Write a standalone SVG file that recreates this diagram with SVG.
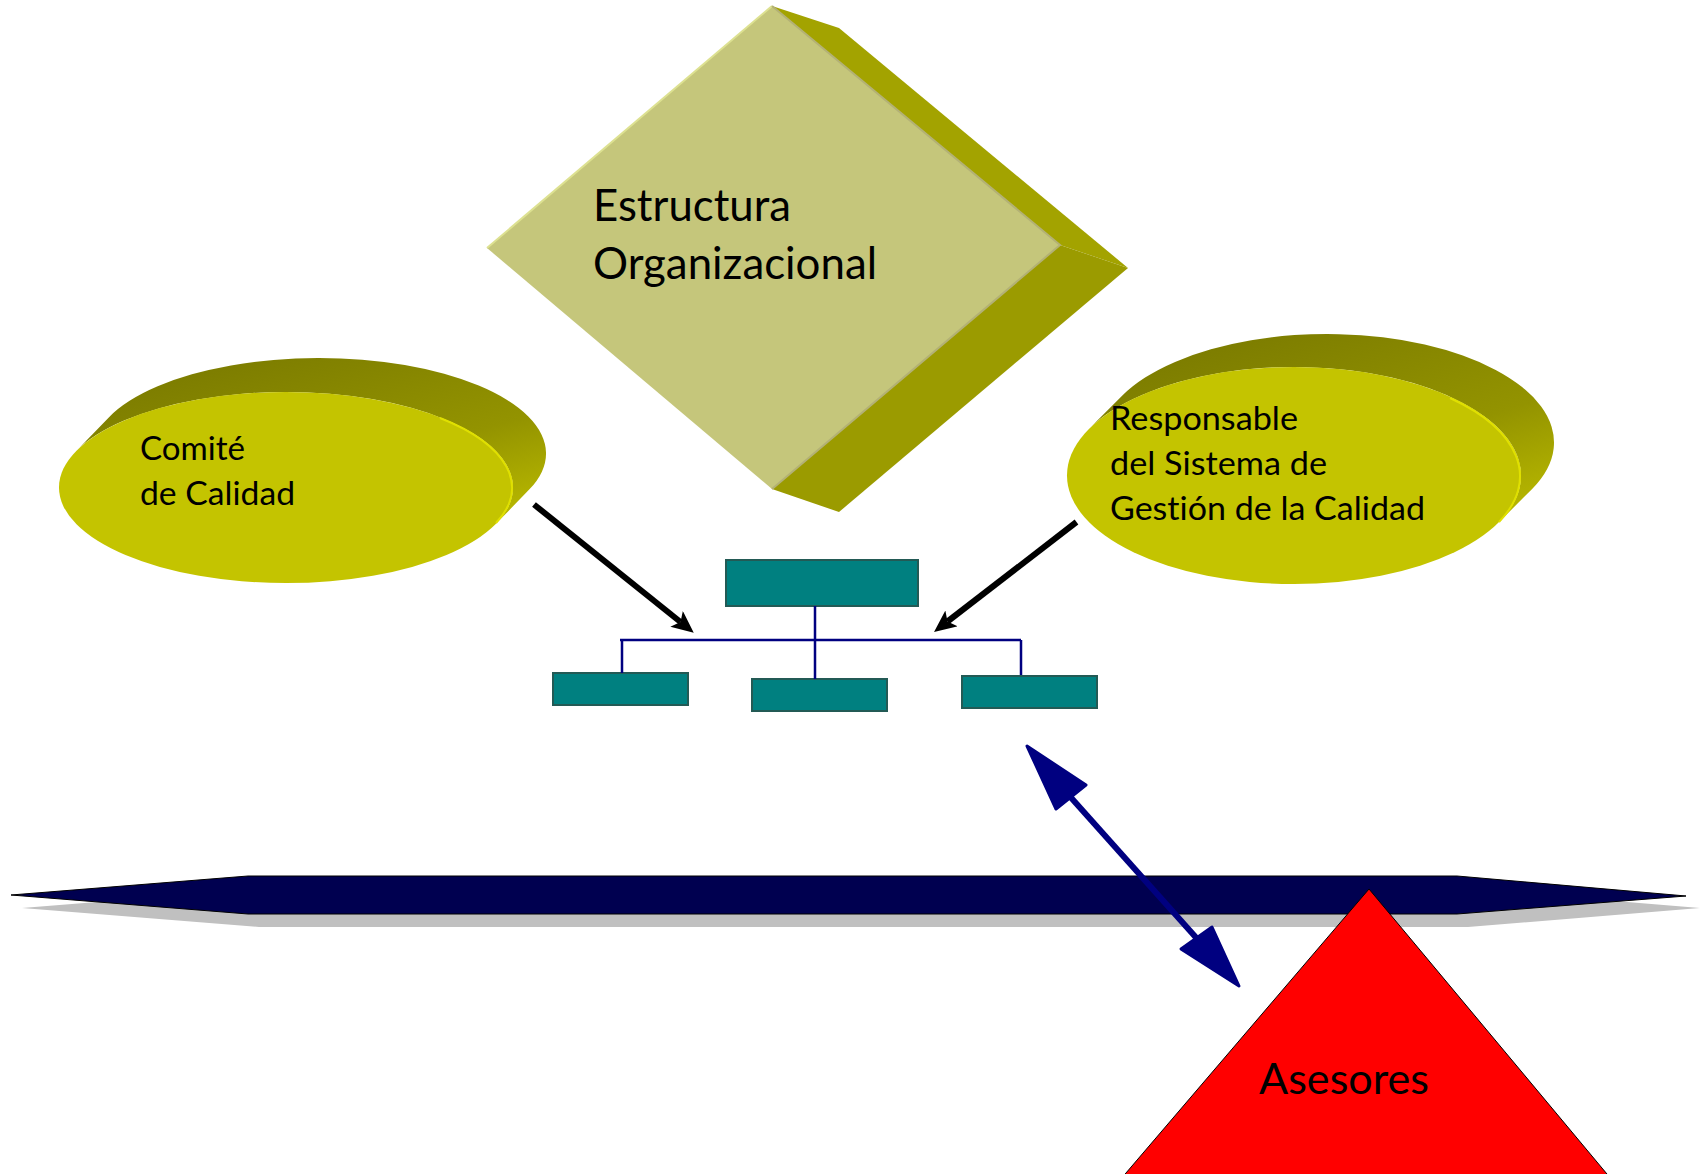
<svg xmlns="http://www.w3.org/2000/svg" width="1705" height="1174" viewBox="0 0 1705 1174">
  <style>
    .lbl { font-family: Lato, "Open Sans", "Liberation Sans", sans-serif; fill: #000; font-variant-ligatures: none; font-feature-settings: "liga" 0, "clig" 0; }
    .box { fill: #008080; stroke: #235a55; stroke-width: 2; }
    .org { stroke: #000080; stroke-width: 2.5; fill: none; }
    .blk { stroke: #000; stroke-width: 6; fill: none; }
    .ellFront { fill: #c4c400; }
    .ellRim { fill: none; stroke: #e0e000; stroke-width: 2; }
    .ellSide { fill: url(#sideGrad); }
  </style>
  <defs>
    <linearGradient id="sideGrad" x1="0.3" y1="0" x2="1" y2="0.9">
      <stop offset="0" stop-color="#7c7c00"/>
      <stop offset="0.6" stop-color="#939300"/>
      <stop offset="1" stop-color="#b8b800"/>
    </linearGradient>
    <marker id="blkHead" viewBox="0 0 22 20" refX="5" refY="10" markerWidth="22" markerHeight="20" markerUnits="userSpaceOnUse" orient="auto">
      <path d="M0,0 L22,10 L0,20 L5,10 Z" fill="#000"/>
    </marker>
  </defs>

  <!-- Diamond: Estructura Organizacional -->
  <g id="estructura">
    <polygon points="772,6 839,28 1128,268 1060,245" fill="#a3a300"/>
    <polygon points="1060,245 1128,268 839,512 772,489" fill="#9b9b00"/>
    <polygon points="772,6 1060,245 772,489 487,248" fill="#c5c67b"/>
    <polyline points="487,248 772,6" fill="none" stroke="#dde191" stroke-width="2"/>
    <polyline points="772,6 1060,245 772,489" fill="none" stroke="#b3b175" stroke-width="2"/>
    <text class="lbl" x="593" y="221" font-size="44" textLength="198" lengthAdjust="spacingAndGlyphs">Estructura</text>
    <text class="lbl" x="593" y="279" font-size="44" textLength="284" lengthAdjust="spacingAndGlyphs">Organizacional</text>
  </g>

  <!-- Ellipse: Comité de Calidad -->
  <g id="comite">
    <path class="ellSide" d="M75.8,451.4 L108.8,417.4 A227,95.5 0 0 1 529.2,489.6 L496.2,523.6 A227,95.5 0 0 0 75.8,451.4 Z"/>
    <ellipse class="ellFront" cx="286" cy="487.5" rx="227" ry="95.5"/>
    <path class="ellRim" d="M440,418 A227,95.5 0 0 1 496,523"/>
    <text class="lbl" x="140" y="460" font-size="33" textLength="105" lengthAdjust="spacingAndGlyphs">Comité</text>
    <text class="lbl" x="140" y="505" font-size="33" textLength="155" lengthAdjust="spacingAndGlyphs">de Calidad</text>
  </g>

  <!-- Ellipse: Responsable del Sistema de Gestión de la Calidad -->
  <g id="responsable">
    <path class="ellSide" d="M1089.1,428.8 L1122.1,395.8 A227,108.5 0 0 1 1531.9,489.2 L1498.9,522.2 A227,108.5 0 0 0 1089.1,428.8 Z"/>
    <ellipse class="ellFront" cx="1294" cy="475.5" rx="227" ry="108.5"/>
    <path class="ellRim" d="M1450,398 A227,108.5 0 0 1 1499,522"/>
    <text class="lbl" x="1110" y="430" font-size="33" textLength="188" lengthAdjust="spacingAndGlyphs">Responsable</text>
    <text class="lbl" x="1110" y="475" font-size="33" textLength="217" lengthAdjust="spacingAndGlyphs">del Sistema de</text>
    <text class="lbl" x="1110" y="520" font-size="33" textLength="315" lengthAdjust="spacingAndGlyphs">Gestión de la Calidad</text>
  </g>

  <!-- Org chart icon -->
  <g id="organigrama">
    <rect class="box" x="726" y="560" width="192" height="46"/>
    <rect class="box" x="553" y="673" width="135" height="32"/>
    <rect class="box" x="752" y="679" width="135" height="32" stroke="#1d6a4f"/>
    <rect class="box" x="962" y="676" width="135" height="32" stroke="#1d6a4f"/>
  </g>

  <!-- Horizontal band -->
  <g id="barra">
    <polygon points="22,908 259,889 1468,889 1700,908 1468,927 259,927" fill="#c0c0c0"/>
    <polygon points="11,895 248,876 1457,876 1686,896 1457,914 248,914" fill="#000050" stroke="#000" stroke-width="1"/>
  </g>

  <!-- Triangle: Asesores -->
  <g id="asesores">
    <polygon points="1369,889 1612,1180 1120,1180" fill="#ff0000" stroke="#000" stroke-width="1"/>
    <text class="lbl" x="1259" y="1094" font-size="43" textLength="170" lengthAdjust="spacingAndGlyphs">Asesores</text>
  </g>

  <!-- Connectors -->
  <g id="conectores">
    <path class="org" d="M620,640 H1021 M622,640 V673 M815,606 V679 M1021,640 V675"/>
    <line class="blk" x1="534" y1="504.5" x2="680.5" y2="622" marker-end="url(#blkHead)"/>
    <line class="blk" x1="1076.5" y1="522" x2="947.5" y2="621.5" marker-end="url(#blkHead)"/>
    <g fill="#000080" stroke="#000080" stroke-width="3" stroke-linejoin="round">
      <line x1="1066" y1="792" x2="1200" y2="942" stroke-width="6"/>
      <polygon points="1027,746 1086,785 1056,809"/>
      <polygon points="1239,986 1212,927 1181,949"/>
    </g>
  </g>
</svg>
